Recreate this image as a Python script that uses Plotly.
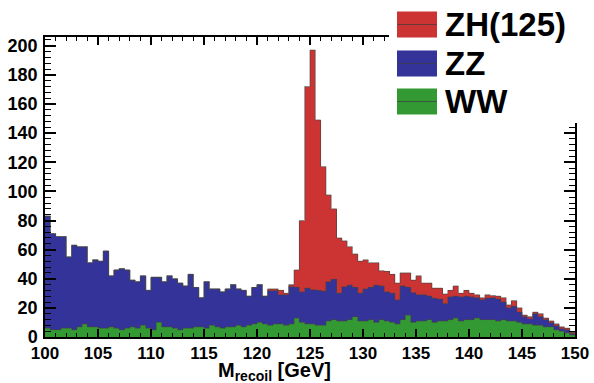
import numpy as np
import plotly.graph_objects as go

# ---- data (0.5 GeV bins from 100 to 150) ----
bin_lo = 100.0
bin_w = 0.5
ww = [6,5,5,6,6,5,7,9,7,7, 6,6,7,6,5,6,7,6,8,6,
      5,10,7,7,6,5,6,6,7,7, 6,8,7,6,7,7,8,7,8,9,
      10,9,8,9,9,8,9,13,10,9, 9,8,8,11,12,11,11,12,14,11,
      11,12,10,12,11,10,9,12,15,10, 11,11,12,10,11,11,12,13,11,12,
      12,13,12,12,12,11,12,11,11,10, 9,9,8,8,7,7,5,4,3,1.5]
zz = [77,66,64,63,49,58,55,53,44,46, 46,53,35,40,42,40,32,32,34,26,
      36,31,31,35,34,32,29,37,27,20, 32,25,26,25,26,29,25,25,20,25,
      26,19,24,23,20,21,26,21,21,24.5, 23.5,24,23.5,27,27.5,19,23.5,23.5,20,19,
      22,22,25.5,23,20,20,16.5,23,19,20.5, 18,18,16,16.5,15,12,15.5,15,16.5,16,
      15.5,14,13.5,14.5,15,15,12,9,10,7, 5,4,8,6,5,3,3,2,2,1]
zh = [0]*42 + [1,1,3,1,1,12,49,138.5,
      164.5,117,85.5,59.5,48.5,38,31.5,26.5,23,22,
      20,17,15.5,10.5,14,13,11.5,9,10,8.5, 13,8,9,7,7.5,6.5,4.5,7,2.5,4,
      2.5,2,1.5,2.5,1.5,2,3,2,4,3, 1,1,1,2,1,1,1,1,1,0.5]
series_names = ["ZH(125)", "ZZ", "WW"]
colors = {"ZH(125)": "#cc3333", "ZZ": "#333399", "WW": "#339933"}
x_ticks = list(range(100, 151, 5))
y_ticks = list(range(0, 201, 20))

n = len(ww)
centers = bin_lo + bin_w * (np.arange(n) + 0.5)
edges = bin_lo + bin_w * np.arange(n + 1)

fig = go.Figure()
for name, vals in [("WW", ww), ("ZZ", zz), ("ZH(125)", zh)]:
    fig.add_trace(go.Bar(x=centers, y=vals, width=bin_w, name=name,
                         marker=dict(color=colors[name], line=dict(width=0)),
                         showlegend=False))

# step outlines of the stack
cum = np.zeros(n)
for vals in [ww, zz, zh]:
    cum = cum + np.array(vals, dtype=float)
    fig.add_trace(go.Scatter(x=edges, y=np.append(cum, cum[-1]), mode="lines",
                             line=dict(shape="hv", color="rgba(70,70,70,0.65)", width=1),
                             showlegend=False, hoverinfo="skip"))

W, H = 594, 383
L, R, T, B = 45, 19, 37, 46
pw, ph = W - L - R, H - T - B


def px(xp):
    return (xp - L) / pw


def py(yp):
    return (H - B - yp) / ph


fam = "Liberation Sans, Arial, sans-serif"
xfont = dict(family=fam, size=17, color="black", weight="bold")
yfont = dict(family=fam, size=18, color="black", weight="bold")
fig.update_layout(
    width=W, height=H, margin=dict(l=L, r=R, t=T, b=B, autoexpand=False),
    barmode="stack", bargap=0,
    plot_bgcolor="white", paper_bgcolor="white",
    xaxis=dict(range=[100, 150], tickvals=x_ticks, ticks="inside", ticklen=8, tickwidth=1.5,
               tickcolor="black", showline=True, linecolor="black", linewidth=1.5,
               mirror="ticks", showgrid=False, zeroline=False, tickfont=xfont,
               automargin=False,
               minor=dict(dtick=1, ticks="inside", ticklen=4, tickcolor="black", tickwidth=1)),
    yaxis=dict(range=[0, 206], tickvals=y_ticks, ticks="inside", ticklen=11, tickwidth=1.5,
               tickcolor="black", showline=True, linecolor="black", linewidth=1.5,
               mirror="ticks", showgrid=False, zeroline=False, tickfont=yfont,
               ticklabelstandoff=2, automargin=False,
               minor=dict(dtick=4, ticks="inside", ticklen=6, tickcolor="black", tickwidth=1)),
)

shapes = []
# white legend area covering the top-right frame
shapes.append(dict(type="rect", xref="paper", yref="paper", x0=px(389), x1=px(600),
                   y0=py(123), y1=py(-5), fillcolor="white", line=dict(width=0), layer="above"))
rows = [("ZH(125)", 24.5), ("ZZ", 63.5), ("WW", 101.5)]
annots = []
for name, yc in rows:
    shapes.append(dict(type="rect", xref="paper", yref="paper", x0=px(397), x1=px(437),
                       y0=py(yc + 13), y1=py(yc - 13), fillcolor=colors[name],
                       line=dict(width=0), layer="above"))
    shapes.append(dict(type="line", xref="paper", yref="paper", x0=px(397), x1=px(437),
                       y0=py(yc), y1=py(yc), line=dict(color="rgba(60,60,60,0.7)", width=1),
                       layer="above"))
    annots.append(dict(xref="paper", yref="paper", x=px(443), y=py(yc), xanchor="left",
                       yanchor="middle", text=name, showarrow=False,
                       font=dict(family=fam, size=33, color="black", weight="bold")))
annots.append(dict(xref="paper", yref="paper", x=px(333), y=py(371), xanchor="right",
                   yanchor="middle", text="M<sub>recoil</sub> [GeV]", showarrow=False,
                   font=dict(family=fam, size=20, color="black", weight="bold")))
fig.update_layout(shapes=shapes, annotations=annots)

fig.write_html("out.html", config={"displayModeBar": False},
               post_script="document.body.style.margin='0px';document.body.style.overflow='hidden';")
